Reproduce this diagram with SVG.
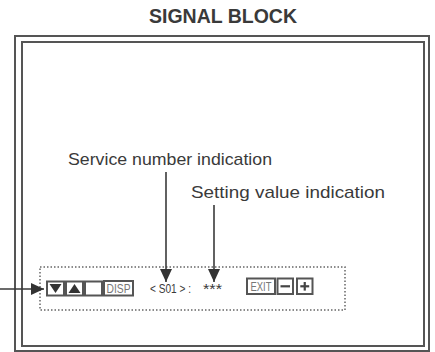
<svg xmlns="http://www.w3.org/2000/svg" width="435" height="352" viewBox="0 0 435 352">
<style>
.frame{fill:none;stroke:#555;stroke-width:2}
.lbl{font-family:"Liberation Sans",Arial,sans-serif;fill:#3a3a3a}
.conn{stroke:#3a3a3a;stroke-width:1.6;fill:none}
.btn{fill:#fff;stroke:#555;stroke-width:2}
.btnt{font-family:"Liberation Sans",Arial,sans-serif;font-size:12px;fill:#777;text-anchor:middle}
.tri{fill:#333}
</style>
<defs>
<marker id="ah" markerUnits="userSpaceOnUse" markerWidth="14" markerHeight="12" refX="13" refY="6" orient="auto">
<path d="M0,0 L13,6 L0,12 z" fill="#333"/>
</marker>
</defs>
<rect width="435" height="352" fill="#fff"/>
<text class="lbl" x="223" y="23" font-size="19.5" font-weight="bold" text-anchor="middle" fill="#444">SIGNAL BLOCK</text>
<g id="frame">
<rect class="frame" x="15" y="36" width="414" height="315"/>
<rect class="frame" x="22" y="42" width="402" height="304"/>
</g>
<g id="service-label"><text class="lbl" x="68" y="165" font-size="17" textLength="204" lengthAdjust="spacingAndGlyphs">Service number indication</text></g>
<g id="setting-label"><text class="lbl" x="191" y="198" font-size="17" textLength="194" lengthAdjust="spacingAndGlyphs">Setting value indication</text></g>
<g id="panel">
<rect x="40" y="267" width="305" height="43" fill="none" stroke="#666" stroke-width="1.5" stroke-dasharray="1.5 2"/>
<g id="btn-down"><rect class="btn" x="47" y="281.5" width="17" height="14"/><polygon class="tri" points="49.5,284 61.5,284 55.5,293"/></g>
<g id="btn-up"><rect class="btn" x="66" y="281.5" width="17" height="14"/><polygon class="tri" points="68.5,293 80.5,293 74.5,284"/></g>
<g id="btn-blank"><rect class="btn" x="85" y="281.5" width="17" height="14"/></g>
<g id="btn-disp"><rect class="btn" x="104" y="281" width="29" height="14.5"/><text class="btnt" x="118.5" y="292.5" textLength="24" lengthAdjust="spacingAndGlyphs">DISP</text></g>
<text class="lbl" x="150" y="293" font-size="12.5" textLength="41" lengthAdjust="spacingAndGlyphs">&lt; S01 &gt; :</text>
<text class="lbl" x="203" y="294" font-size="14" fill="#555" textLength="19" lengthAdjust="spacingAndGlyphs">***</text>
<g id="btn-exit"><rect class="btn" x="247" y="278.5" width="28" height="15.5"/><text class="btnt" x="261" y="291" textLength="21" lengthAdjust="spacingAndGlyphs">EXIT</text></g>
<g id="btn-minus"><rect class="btn" x="277.5" y="278.5" width="15.5" height="15.5"/><line x1="280.5" y1="286.3" x2="290" y2="286.3" stroke="#444" stroke-width="2.2"/></g>
<g id="btn-plus"><rect class="btn" x="297" y="278.5" width="15.5" height="15.5"/><line x1="300.3" y1="286.3" x2="309.2" y2="286.3" stroke="#444" stroke-width="2.2"/><line x1="304.75" y1="282" x2="304.75" y2="290.6" stroke="#444" stroke-width="2.2"/></g>
</g>
<g id="connectors">
<line class="conn" x1="166" y1="172" x2="166" y2="282" marker-end="url(#ah)"/>
<line class="conn" x1="214" y1="205" x2="214" y2="282" marker-end="url(#ah)"/>
<line class="conn" x1="0" y1="289" x2="44" y2="289" marker-end="url(#ah)"/>
</g>
</svg>
